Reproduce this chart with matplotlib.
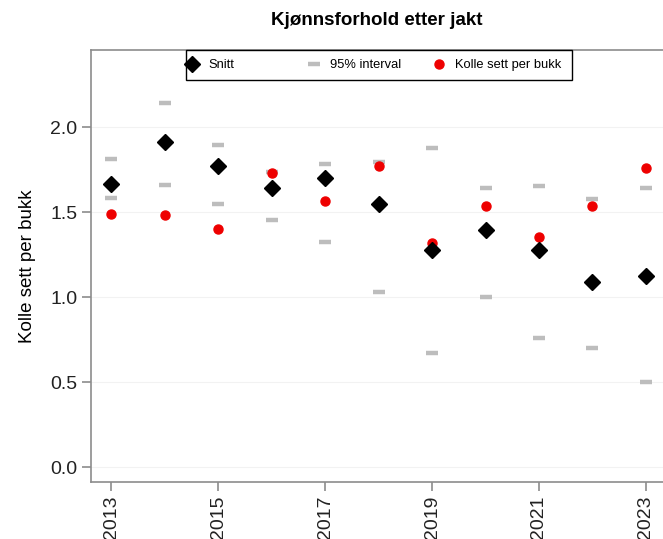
import numpy as np
import matplotlib
matplotlib.use('Agg')
import matplotlib.pyplot as plt
from matplotlib.patches import Rectangle
from matplotlib.legend import Legend

years = np.arange(2013, 2024)
snitt = [1.668, 1.914, 1.772, 1.641, 1.704, 1.549, 1.278, 1.394, 1.276, 1.090, 1.125]
ci_upper = [1.812, 2.145, 1.896, 1.735, 1.782, 1.798, 1.876, 1.643, 1.653, 1.578, 1.645]
ci_lower = [1.586, 1.659, 1.549, 1.455, 1.324, 1.031, 0.672, 1.000, 0.759, 0.704, 0.504]
kolle_per_bukk = [1.492, 1.486, 1.404, 1.731, 1.565, 1.770, 1.321, 1.535, 1.357, 1.537, 1.762]

plt.rcParams['font.family'] = ['Liberation Sans', 'DejaVu Sans']

fig = plt.figure(figsize=(6.63, 5.39), dpi=100)
ax = fig.add_axes([0.1373, 0.1058, 0.8627, 0.8014])

grey = '#bdbdbd'
ax.plot(years, ci_upper, ls='none', marker='_', ms=9, mew=3.2, color=grey, zorder=2)
h_ci, = ax.plot(years, ci_lower, ls='none', marker='_', ms=9, mew=3.2, color=grey, zorder=2)
h_red, = ax.plot(years, kolle_per_bukk, ls='none', marker='o', ms=6.5, color='#ee0000', zorder=3)
h_snitt, = ax.plot(years, snitt, ls='none', marker='D', ms=8.5, color='black', zorder=4)

ax.set_xlim(2012.62, 2023.32)
ax.set_ylim(-0.086, 2.455)
ax.set_xticks(years[::2])
ax.set_xticklabels([str(y) for y in years[::2]], rotation=90, fontsize=14)
ax.set_yticks([0.0, 0.5, 1.0, 1.5, 2.0])
ax.set_yticklabels(['0.0', '0.5', '1.0', '1.5', '2.0'], fontsize=14)
ax.grid(axis='y', color='#f2f2f2', lw=0.8)
ax.set_axisbelow(True)

for side in ['left', 'top', 'bottom']:
    ax.spines[side].set_color('#8c8c8c')
    ax.spines[side].set_linewidth(1.2)
ax.spines['right'].set_visible(False)
ax.tick_params(colors='#8c8c8c', labelcolor='#222222', length=6.5, width=1.2)

ax.set_ylabel('Kolle sett per bukk', fontsize=13.5, labelpad=10)
ax.set_title('Kjønnsforhold etter jakt', fontsize=13.5, fontweight='bold', pad=18)

# legend box: Stata-like, equal-width columns hanging from the top spine
ax.add_patch(Rectangle((0.166, 1.0 - 0.0694), 0.675, 0.0694, transform=ax.transAxes,
                       facecolor='white', edgecolor='black', lw=1.0, clip_on=False, zorder=5))
entries = [(h_snitt, 'Snitt', 0.1652), (h_ci, '95% interval', 0.3785),
           (h_red, 'Kolle sett per bukk', 0.5970)]
for handle, label, x0 in entries:
    leg = Legend(ax, [handle], [label], loc='center left', bbox_to_anchor=(x0, 1.0 - 0.0347),
                 fontsize=9.3, frameon=False, borderpad=0, borderaxespad=0,
                 handlelength=1.0, handletextpad=0.74)
    leg.set_zorder(6)
    ax.add_artist(leg)

fig.savefig('out.png', dpi=100)
